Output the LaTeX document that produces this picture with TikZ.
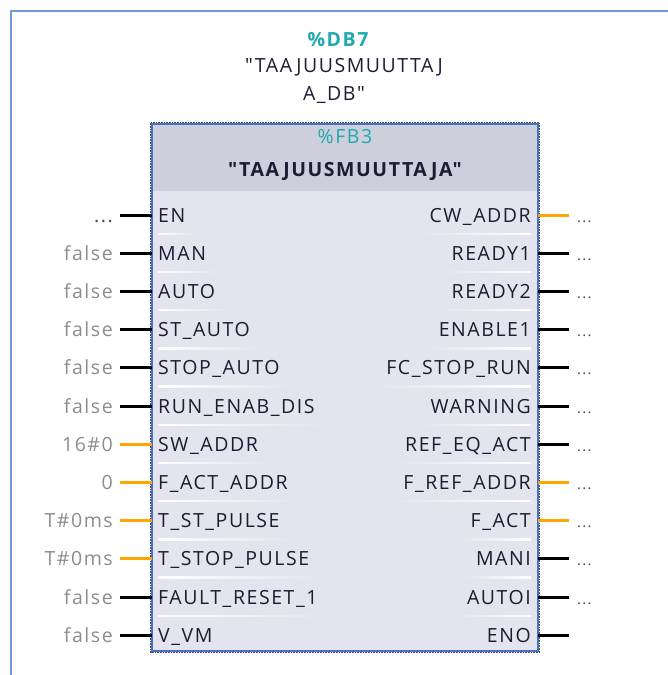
\documentclass[tikz,border=0pt]{standalone}
\usepackage{fontspec}
\newfontfamily\plcfont{Open Sans}[LetterSpace=8]
\usetikzlibrary{positioning}

\definecolor{frameblue}{RGB}{112,156,214}
\definecolor{fbblue}{RGB}{68,114,196}
\definecolor{headfill}{RGB}{205,207,220}
\definecolor{bodyfill}{RGB}{227,228,237}
\definecolor{pinorange}{RGB}{255,165,0}
\definecolor{valgray}{RGB}{140,140,140}
\definecolor{tagteal}{RGB}{32,168,176}
\definecolor{lbldark}{RGB}{30,28,50}

\tikzset{
  lbl/.style={inner sep=0pt, font=\plcfont\fontsize{19.5}{22}\selectfont, text=lbldark},
  vallbl/.style={lbl, text=valgray},
  dots/.style={inner sep=0pt, font=\plcfont\fontsize{15}{18}\selectfont, text=lbldark!80},
  tag/.style={inner sep=0pt, font=\plcfont\fontsize{19.5}{22}\selectfont, text=tagteal},
  pinline/.style={line width=3pt}
}

\begin{document}
\begin{tikzpicture}[x=1pt,y=-1pt]
  \useasboundingbox (0,0) rectangle (667,675);

  % outer frame
  \draw[frameblue,line width=2.5pt] (11,680) -- (11,11) -- (672,11);

  % instance data block
  \node[tag, font=\plcfont\fontsize{19.5}{22}\selectfont\bfseries] (dbnum) at (338,40) {\%DB7};
  \node[lbl] (dbname1) at (344,67) {"TAAJUUSMUUTTAJ};
  \node[lbl] (dbname2) at (334,95) {A\_DB"};

  % function block body
  \fill[bodyfill] (152,124) rectangle (538,651);
  \fill[headfill] (152,124) rectangle (538,191);
  \draw[fbblue,line width=2pt] (152,124) rectangle (538,651);
  \draw[black!70,line width=0.6pt,densely dotted] (150.5,122.5) rectangle (539.5,652.5);

  \node[tag] (fbnum) at (345,137) {\%FB3};
  \node[lbl, font=\plcfont\fontsize{19.5}{22}\selectfont\bfseries] (fbname) at (345,171) {"TAAJUUSMUUTTAJA"};

  % pins
  \foreach \inp/\val/\vcol/\icol/\outp/\ocol [count=\i from 0] in {
      EN/{...}/lbldark!80/black/CW\_ADDR/pinorange,
      MAN/false/valgray/black/READY1/black,
      AUTO/false/valgray/black/READY2/black,
      ST\_AUTO/false/valgray/black/ENABLE1/black,
      STOP\_AUTO/false/valgray/black/FC\_STOP\_RUN/black,
      RUN\_ENAB\_DIS/false/valgray/black/WARNING/black,
      SW\_ADDR/16\#0/valgray/pinorange/REF\_EQ\_ACT/black,
      F\_ACT\_ADDR/0/valgray/pinorange/F\_REF\_ADDR/pinorange,
      T\_ST\_PULSE/T\#0ms/valgray/pinorange/F\_ACT/pinorange,
      T\_STOP\_PULSE/T\#0ms/valgray/pinorange/MANI/black,
      FAULT\_RESET\_1/false/valgray/black/AUTOI/black,
      V\_VM/false/valgray/black/ENO/black}{
    \pgfmathsetmacro\ry{215+38.2*\i}
    \pgfmathsetmacro\by{\ry+7}
    \node[lbl, anchor=base west] (in\i) at (158,\by) {\inp};
    \node[lbl, anchor=base east] (out\i) at (531,\by) {\outp};
    \node[vallbl, anchor=base east, text=\vcol] (val\i) at (113,\by) {\val};
    \coordinate (inA\i) at (120,\ry);
    \coordinate (inB\i) at (152,\ry);
    \coordinate (outA\i) at (538,\ry);
    \coordinate (outB\i) at (569,\ry);
    \draw[pinline,\icol] (inA\i) -- (inB\i);
    \draw[pinline,\ocol] (outA\i) -- (outB\i);
    \ifnum\i<11
      \node[dots, anchor=base west] (res\i) at (577,\by) {...};
      \shade[left color=white, right color=bodyfill]
        ([yshift=-11pt]in\i.base west) rectangle ([yshift=-12.5pt,xshift=12pt]in\i.base east);
      \shade[left color=bodyfill, right color=white]
        ([yshift=-11pt,xshift=-12pt]out\i.base west) rectangle ([yshift=-12.5pt]out\i.base east);
    \fi
  }
\end{tikzpicture}
\end{document}
